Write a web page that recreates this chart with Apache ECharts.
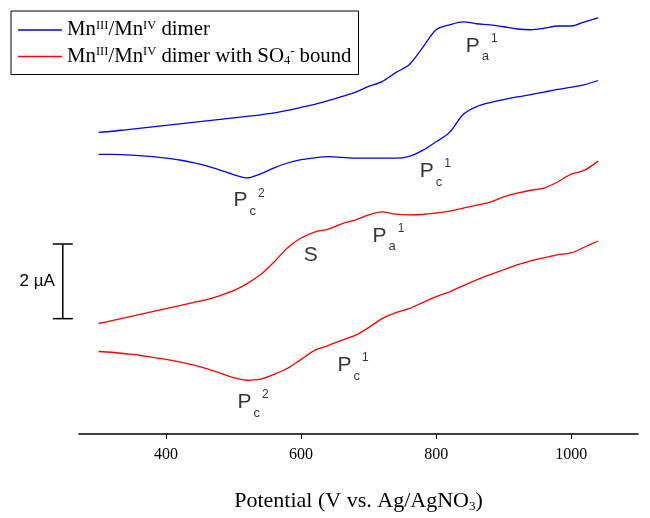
<!DOCTYPE html>
<html>
<head>
<meta charset="utf-8">
<script src="https://cdn.jsdelivr.net/npm/echarts@6/dist/echarts.min.js"></script>
<style>
  html, body { margin: 0; padding: 0; background: #fff; }
  #chart { width: 650px; height: 518px; }
</style>
</head>
<body>
<div id="chart"></div>
<script>
// potential (mV) grid shared by all branches
const potentials = [300, 320, 340, 360, 380, 400, 420, 440, 460, 480, 500, 520, 540, 560, 580, 600, 620, 640, 660, 680,
  700, 720, 740, 760, 780, 800, 820, 840, 860, 880, 900, 920, 940, 960, 980, 1000, 1020, 1040]

// currents in uA (arbitrary offset, each loop shifted as in the figure)
const dimerAnodic = [8.08, 8.11, 8.15, 8.19, 8.23, 8.27, 8.31, 8.35, 8.39, 8.43, 8.47, 8.51, 8.55, 8.60, 8.67, 8.75, 8.83, 8.93, 9.04, 9.15,
  9.31, 9.44, 9.68, 9.89, 10.35, 10.83, 10.96, 11.04, 10.99, 10.96, 10.91, 10.85, 10.83, 10.87, 10.93, 10.93, 11.04, 11.15]
const dimerCathodic = [7.49, 7.49, 7.48, 7.46, 7.43, 7.39, 7.34, 7.27, 7.18, 7.07, 6.95, 6.86, 6.97, 7.13, 7.26, 7.35, 7.40, 7.43, 7.41, 7.39,
  7.39, 7.39, 7.39, 7.44, 7.60, 7.83, 8.08, 8.56, 8.77, 8.88, 8.96, 9.03, 9.09, 9.16, 9.23, 9.29, 9.36, 9.47]
const sulfateAnodic = [2.96, 3.04, 3.12, 3.20, 3.28, 3.36, 3.44, 3.52, 3.60, 3.71, 3.84, 4.03, 4.27, 4.61, 4.99, 5.25, 5.41, 5.49, 5.63, 5.73,
  5.87, 5.95, 5.89, 5.87, 5.88, 5.92, 5.97, 6.05, 6.13, 6.21, 6.35, 6.45, 6.53, 6.59, 6.75, 6.96, 7.07, 7.31]
const sulfateCathodic = [2.21, 2.19, 2.15, 2.11, 2.05, 2.00, 1.93, 1.85, 1.75, 1.63, 1.51, 1.44, 1.47, 1.60, 1.76, 2.00, 2.24, 2.37, 2.51, 2.64,
  2.85, 3.09, 3.25, 3.36, 3.52, 3.68, 3.81, 3.97, 4.13, 4.27, 4.40, 4.53, 4.64, 4.72, 4.80, 4.85, 5.01, 5.17]

const tickValues = [400, 600, 800, 1000]

// peak annotations: [potential, current] of the label's left edge
const peakNames = ['Pa1', 'Pc1', 'Pc2', 'S', 'Pa1', 'Pc1', 'Pc2']
const peakX = [843, 775, 499, 603, 705, 653, 505]
const peakY = [10.4, 7.03, 6.25, 4.8, 5.31, 1.84, 0.85]

// 2 uA scale bar: [potential, low, high]
const scaleBar = [[247, 3.09, 5.09]]

const serif = "'Liberation Serif', 'DejaVu Serif', serif"
const sans = "'Liberation Sans', Arial, sans-serif"

const legendText = {
  dimer: '{a|Mn}{sup|III}{a|/Mn}{sup|IV}{a| dimer}',
  sulfate: '{a|Mn}{sup|III}{a|/Mn}{sup|IV}{a| dimer with SO}{sub|4}{sup|-}{a| bound}'
}

const toPairs = arr => potentials.map((p, i) => [p, arr[i]])

const branch = (name, color, arr) => ({
  name, type: 'line', data: toPairs(arr), symbol: 'none', smooth: 0.3,
  lineStyle: { color, width: 1.3 }, itemStyle: { color }, silent: true
})

const chart = echarts.init(document.getElementById('chart'))

chart.setOption({
  animation: false,
  grid: { left: 79, right: 12, top: 0, bottom: 82 },
  legend: {
    left: 11, top: 11, orient: 'vertical',
    data: ['dimer', 'sulfate'],
    icon: 'rect', itemWidth: 44, itemHeight: 1.5, itemGap: 5,
    padding: [8, 7, 7, 7],
    borderColor: '#000', borderWidth: 1,
    formatter: name => legendText[name],
    textStyle: {
      color: '#000', fontFamily: serif, fontSize: 21,
      rich: {
        a: { fontFamily: serif, fontSize: 20.8, color: '#000' },
        sup: { fontFamily: serif, fontSize: 12.5, color: '#000', padding: [0, 0, 9, 0] },
        sub: { fontFamily: serif, fontSize: 12.5, color: '#000', padding: [9, 0, 0, 0] }
      }
    }
  },
  xAxis: {
    type: 'value', min: 271, max: 1099,
    axisLine: { lineStyle: { color: '#000', width: 1.5 } },
    axisTick: { customValues: tickValues, length: 5, lineStyle: { color: '#000' } },
    axisLabel: {
      customValues: tickValues, color: '#000', fontFamily: serif, fontSize: 16, margin: 13,
      formatter: v => String(v)
    },
    splitLine: { show: false },
    name: '{a|Potential (V vs. Ag/AgNO}{s|3}{a|)}',
    nameLocation: 'middle', nameGap: 56,
    nameTextStyle: {
      rich: {
        a: { fontFamily: serif, fontSize: 22, color: '#000' },
        s: { fontFamily: serif, fontSize: 13, color: '#000', padding: [10, 0, 0, 0] }
      }
    }
  },
  yAxis: { type: 'value', min: 0, max: 436 / 37.5, show: false },
  series: [
    branch('dimer', '#0000ff', dimerAnodic),
    branch('dimer', '#0000ff', dimerCathodic),
    branch('sulfate', '#ff0000', sulfateAnodic),
    branch('sulfate', '#ff0000', sulfateCathodic),
    {
      type: 'scatter', silent: true, symbolSize: 1, itemStyle: { color: 'rgba(0,0,0,0)' },
      data: peakNames.map((n, i) => ({ value: [peakX[i], peakY[i]], name: n })),
      label: {
        show: true, position: 'right', distance: 0,
        formatter: p => {
          const n = p.name
          if (n === 'S') return '{p|S}'
          return '{p|P}{b|' + n[1] + '}{t|' + n[2] + '}'
        },
        rich: {
          p: { fontFamily: sans, fontSize: 21, color: '#000' },
          b: { fontFamily: sans, fontSize: 13, color: '#000', padding: [22, 1, 0, 2] },
          t: { fontFamily: sans, fontSize: 12, color: '#000', padding: [0, 0, 15, 1] }
        }
      }
    },
    {
      type: 'custom', silent: true, clip: false,
      data: scaleBar,
      renderItem: (params, api) => {
        const top = api.coord([api.value(0), api.value(2)])
        const bot = api.coord([api.value(0), api.value(1)])
        const st = { stroke: '#000', lineWidth: 1.5 }
        return {
          type: 'group',
          children: [
            { type: 'line', shape: { x1: top[0], y1: top[1], x2: bot[0], y2: bot[1] }, style: st },
            { type: 'line', shape: { x1: top[0] - 10, y1: top[1], x2: top[0] + 10, y2: top[1] }, style: st },
            { type: 'line', shape: { x1: bot[0] - 10, y1: bot[1], x2: bot[0] + 10, y2: bot[1] }, style: st },
            {
              type: 'text',
              style: {
                x: top[0] - 8, y: (top[1] + bot[1]) / 2, text: '2 µA',
                fill: '#000', font: '17px ' + sans, textAlign: 'right', textVerticalAlign: 'middle'
              }
            }
          ]
        }
      }
    }
  ]
})

window.addEventListener('resize', () => chart.resize())
</script>
</body>
</html>
